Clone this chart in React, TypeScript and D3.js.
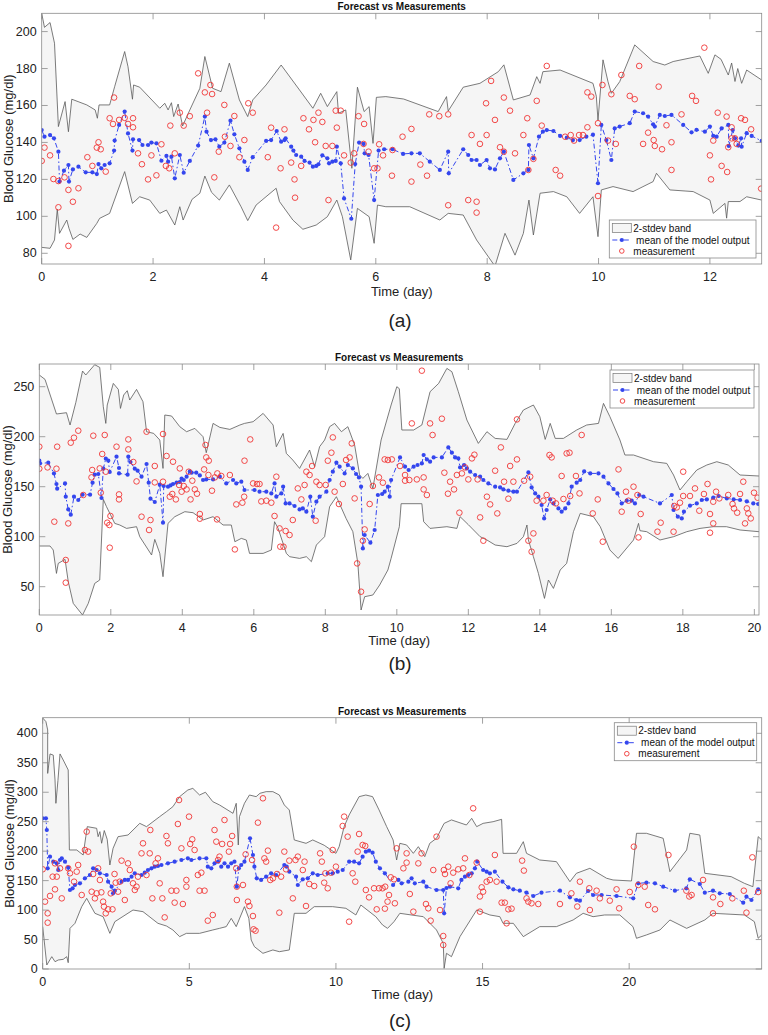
import React from 'react';
import * as d3 from 'd3';

type Pt = [number, number];

// ---------------- Panel (a) ----------------
const upperA: Pt[] = [[0,209.9],[0.05,202.3],[0.15,204.9],[0.23,193.7],[0.3,148.6],[0.42,162.1],[0.48,145.8],[0.54,163.4],[0.81,160.3],[0.96,157.6],[1.0,153.1],[1.03,160.3],[1.22,160.3],[1.31,170.2],[1.49,189.2],[1.55,181],[1.63,163.4],[1.65,171.1],[1.76,169.9],[2.12,158.5],[2.21,161.2],[2.27,157.6],[2.33,161.5],[2.37,154],[2.45,160.8],[2.53,148.9],[2.66,157.6],[2.84,169.3],[2.93,186.5],[3.07,169.3],[3.22,167.5],[3.37,182.9],[3.55,163],[3.7,154],[3.79,163],[4.03,171.1],[4.3,181.9],[4.63,168.4],[4.87,158.5],[5.01,166.6],[5.13,159.4],[5.3,167.5],[5.33,155.8],[5.46,157.6],[5.57,126],[5.67,169.9],[5.79,156.7],[5.88,159.4],[5.95,139.5],[6.01,164.4],[6.18,164.8],[6.5,163.5],[7.12,156.7],[7.27,164.8],[7.3,157],[7.57,169.9],[7.87,172],[8.2,178.3],[8.3,182],[8.47,163],[8.77,165.7],[8.89,175.6],[8.95,172],[9.0,178.3],[9.31,179.2],[9.9,172],[9.96,165],[9.99,152],[10.08,184.7],[10.17,172.9],[10.23,166.6],[10.38,172.9],[10.65,192.8],[10.98,183.8],[11.19,181.9],[11.34,183.8],[11.82,186.8],[11.97,177.4],[12.09,187.4],[12.2,185],[12.33,176.5],[12.39,183],[12.45,173],[12.5,180],[12.57,172],[12.66,179.2],[12.93,173.8]];
const lowerA: Pt[] = [[0,83.2],[0.15,82.7],[0.23,87.2],[0.28,103.8],[0.32,90.8],[0.45,98],[0.49,93.5],[0.56,87.5],[0.69,90.4],[0.81,88.6],[0.99,96.2],[1.04,98.9],[1.22,101.6],[1.49,124.2],[1.63,107],[1.76,110.6],[1.94,108.8],[2.12,101.6],[2.24,103.4],[2.39,95.3],[2.48,105.2],[2.54,98],[2.7,109.2],[2.84,112.5],[2.93,121.8],[3.05,113],[3.19,108.8],[3.37,117],[3.58,105.2],[3.7,97.7],[3.85,106.1],[4.21,115.2],[4.27,108],[4.51,98],[4.69,93],[4.93,95.3],[5.13,99.8],[5.3,108.8],[5.4,99.8],[5.55,76.4],[5.67,104.3],[5.88,99.8],[5.97,85.4],[6.03,106.1],[6.18,105.2],[6.61,105.2],[7.15,98],[7.3,101.6],[7.57,100.7],[7.81,87.2],[8.14,73],[8.32,90.8],[8.5,79],[8.65,90.8],[8.75,108.8],[8.83,89.9],[8.95,112.5],[9.19,113.4],[9.43,110.6],[9.66,101.6],[9.9,110.6],[9.99,89],[10.05,114.3],[10.26,116.1],[10.62,113.4],[10.98,118.8],[11.04,123.3],[11.28,114.3],[11.7,113.4],[12.0,108.8],[12.06,101.6],[12.27,107],[12.3,99],[12.33,108],[12.54,108],[12.66,110.6],[12.93,108.8]];
const meanA: Pt[] = [[0,146.7],[0.05,143.1],[0.15,144],[0.22,142.2],[0.3,135],[0.32,118.8],[0.4,124.7],[0.48,127.8],[0.49,118.8],[0.56,125.4],[0.66,126.9],[0.79,123.8],[0.91,123.8],[0.99,122.9],[1.02,128.3],[1.07,126],[1.13,127.8],[1.22,128.7],[1.3,135.6],[1.31,141],[1.39,149.5],[1.49,156.7],[1.55,144.9],[1.63,135.6],[1.64,141.7],[1.75,141.3],[1.81,138.6],[1.91,138.6],[1.97,139.9],[2.06,139.5],[2.15,130.1],[2.24,132.7],[2.27,129.6],[2.33,132.3],[2.39,120.6],[2.48,133.2],[2.55,123.6],[2.66,130],[2.81,138.3],[2.93,154],[2.96,145.8],[3.04,141.3],[3.12,141.7],[3.19,137.7],[3.28,139.9],[3.39,151.8],[3.46,144.4],[3.55,136.8],[3.64,129.6],[3.7,125.1],[3.79,132],[4.03,140.8],[4.12,141.3],[4.22,146.2],[4.3,140.4],[4.36,141.3],[4.38,142.2],[4.48,137.7],[4.52,135.6],[4.57,133.2],[4.66,132.3],[4.72,130],[4.81,129.1],[4.87,126.9],[4.93,127.3],[4.97,128.2],[5.04,133],[5.13,131.4],[5.16,128.7],[5.22,129.6],[5.28,130],[5.3,137.7],[5.37,128.7],[5.43,109.7],[5.56,98.7],[5.63,128.3],[5.7,139.9],[5.78,139.2],[5.8,134.1],[5.87,133.2],[5.97,108.8],[6.05,135.6],[6.15,136.3],[6.3,136.3],[6.49,133.8],[6.64,134.1],[6.79,134.1],[6.97,129.6],[7.15,125.1],[7.3,135],[7.31,123.3],[7.57,136.3],[7.66,133.2],[7.72,130.5],[7.81,130.5],[7.87,127.8],[7.99,130.5],[8.05,126],[8.14,125.4],[8.23,131.4],[8.3,135],[8.47,119.7],[8.65,123.3],[8.74,125.1],[8.75,138.6],[8.83,131.4],[8.93,143.1],[9.0,145.8],[9.07,146.7],[9.19,146.2],[9.31,143.5],[9.43,142.6],[9.54,141.3],[9.66,141.3],[9.78,143.1],[9.9,144.2],[9.99,117.9],[10.05,149.5],[10.14,141.3],[10.23,130.5],[10.29,147.6],[10.38,148.6],[10.56,150.4],[10.65,156.7],[10.8,155.8],[10.89,154],[10.98,149.8],[11.01,148.6],[11.1,154.9],[11.19,154.3],[11.31,154.9],[11.52,149.5],[11.67,145.5],[11.76,146.8],[11.91,145.8],[12.0,148.6],[12.06,143.5],[12.12,143.1],[12.21,147.6],[12.33,149.5],[12.34,138.1],[12.41,146.7],[12.45,142.2],[12.51,138.3],[12.56,142.2],[12.57,137.7],[12.66,145],[12.75,143.5],[12.93,140.8]];
const measA: Pt[] = [[0,130],[0.05,137.2],[0.15,133],[0.21,120.2],[0.3,104.9],[0.3,119.1],[0.41,121.1],[0.48,114.3],[0.48,84],[0.56,107.9],[0.66,115.2],[0.82,132],[0.91,127.3],[0.99,137.2],[1.02,140.1],[1.06,136.3],[1.15,124.2],[1.22,153.1],[1.28,150],[1.3,164.3],[1.39,152.2],[1.49,153.3],[1.55,150],[1.64,153.1],[1.64,148.2],[1.73,134.1],[1.8,128.2],[1.91,120],[1.97,133],[2.06,122.2],[2.15,139],[2.23,127.3],[2.29,126],[2.31,149.1],[2.39,134.1],[2.48,156.1],[2.55,149.1],[2.66,154.2],[2.81,177.4],[2.93,167.1],[2.97,156.1],[3.03,171.1],[3.06,166.2],[3.1,121.1],[3.18,135],[3.28,160.3],[3.29,143.1],[3.39,138.1],[3.46,154.3],[3.55,132],[3.64,141.3],[3.71,161.2],[3.79,156.1],[4.06,132],[4.12,148],[4.21,93.9],[4.29,126],[4.36,147.1],[4.48,129.1],[4.54,120],[4.55,110.1],[4.66,127.3],[4.7,153.1],[4.8,147.1],[4.88,152.2],[4.91,140.1],[4.97,156.1],[5.04,151.1],[5.1,138.1],[5.15,108.8],[5.22,138.1],[5.28,157.2],[5.3,148],[5.37,157.2],[5.43,133],[5.55,129.1],[5.61,134.1],[5.69,154.2],[5.78,139.2],[5.79,150],[5.87,135],[5.97,126],[6.03,126],[6.06,139],[6.13,133],[6.29,122],[6.3,135.9],[6.48,143.1],[6.64,147.3],[6.64,118.8],[6.8,128],[6.92,122],[6.96,155.2],[7.14,154.2],[7.3,155.2],[7.3,106],[7.66,108.8],[7.72,144],[7.81,107.9],[7.81,102],[7.87,139.2],[7.98,161.2],[7.99,144],[8.07,173.3],[8.14,152.2],[8.23,137.4],[8.3,135],[8.3,164.3],[8.41,157.2],[8.5,134.1],[8.65,144],[8.72,153.1],[8.74,125.1],[8.83,131.1],[8.89,162.5],[8.98,149.1],[9.07,181.4],[9.23,125.1],[9.31,122],[9.4,143.1],[9.5,144],[9.56,141],[9.65,144],[9.72,144],[9.8,148.2],[9.8,167.1],[9.87,164.8],[9.99,150.4],[9.99,111],[10.07,171.1],[10.17,141],[10.23,166.1],[10.31,139.2],[10.41,176.5],[10.56,165.2],[10.65,163.4],[10.73,181.4],[10.8,139.2],[10.89,145.3],[10.99,141.3],[11.01,138.1],[11.08,170.2],[11.14,136.3],[11.22,149.3],[11.31,125.1],[11.31,140.1],[11.49,155.2],[11.68,165.2],[11.75,162.5],[11.9,191.3],[12.0,133],[12.02,120],[12.06,141],[12.14,156.1],[12.21,127.3],[12.3,154],[12.31,124],[12.33,137.4],[12.39,148.2],[12.39,142.2],[12.45,142.2],[12.48,139.2],[12.56,153.1],[12.63,152.2],[12.74,147.1],[12.92,115]];
const xTicksA = [0, 2, 4, 6, 8, 10, 12];
const yTicksA = [80, 100, 120, 140, 160, 180, 200];

// ---------------- Panel (b) ----------------
const upperB: Pt[] = [[0,261.7],[0.16,257.3],[0.48,222.7],[0.76,224],[0.86,211.7],[1.02,234],[1.21,265.7],[1.3,261.7],[1.55,272],[1.69,269.3],[1.79,230],[1.86,213.3],[1.9,231.7],[2.07,253.3],[2.21,247.3],[2.27,228.3],[2.36,241.7],[2.46,246],[2.53,236.7],[2.72,247.3],[2.9,235],[3.0,205],[3.2,203.3],[3.37,196.7],[3.46,168.3],[3.51,221.7],[3.7,220.7],[3.93,210],[4.12,205],[4.35,208.3],[4.58,200],[4.67,184],[4.86,213.3],[5.05,209.3],[5.33,207.3],[5.61,211.7],[5.74,213.3],[5.98,215],[6.26,223.3],[6.54,211.7],[6.63,190],[6.82,203.3],[6.91,183.3],[7.09,176.7],[7.28,168.3],[7.56,186.7],[7.7,170],[7.84,190],[7.98,196.7],[8.12,210],[8.26,213.3],[8.45,205],[8.63,210],[8.82,191.7],[8.96,161.7],[9.05,158.3],[9.19,163.3],[9.33,148.3],[9.56,196.7],[9.84,231.7],[10.0,250],[10.07,248],[10.14,206.7],[10.47,206.7],[10.7,211.7],[10.93,245],[11.17,253.3],[11.4,268.3],[11.54,265],[11.72,245],[11.96,216.7],[12.28,193.3],[12.52,205],[12.75,198.3],[13.08,197.3],[13.31,213.3],[13.54,226.7],[13.82,231.7],[14.0,220],[14.15,197.3],[14.29,213.3],[14.43,198.3],[14.66,198.3],[15.03,206.7],[15.31,211.7],[15.64,213.3],[15.78,233.3],[15.96,220],[16.24,196.7],[16.38,181.7],[16.62,181.7],[17.18,175],[17.55,173.3],[17.74,161.7],[17.92,146.7],[18.11,155],[18.39,166.7],[18.67,171.7],[18.95,175],[19.27,171.7],[19.6,161.7],[20.13,160.7]];
const lowerB: Pt[] = [[0,90.7],[0.3,90.7],[0.39,86.7],[0.48,63.3],[0.53,73.3],[0.72,77.3],[0.81,55],[0.95,33.3],[1.21,21.7],[1.37,33.3],[1.55,53.3],[1.69,56.7],[1.79,137.3],[1.88,130],[2.11,113.3],[2.25,111.7],[2.44,108.3],[2.72,110],[2.81,100],[3.14,81.7],[3.23,97.3],[3.37,83.3],[3.46,60],[3.6,113.3],[3.79,120],[4.07,125],[4.3,124],[4.58,116.7],[4.86,120],[5.14,111.7],[5.37,111.7],[5.47,95],[5.65,98.3],[5.79,96.7],[5.88,83.3],[6.26,83.3],[6.49,86.7],[6.58,115],[6.68,108.3],[6.91,83.3],[7.0,80],[7.28,78.3],[7.47,80],[7.61,75],[7.75,91.7],[7.98,100],[8.12,130],[8.31,140],[8.58,118.3],[8.77,105],[8.91,73.3],[9.0,26.7],[9.1,40],[9.33,41.7],[9.52,51.7],[9.75,66.7],[9.84,78.3],[10.07,110],[10.12,133],[10.7,133],[10.75,115],[10.93,108.3],[11.4,110],[11.68,108.3],[11.77,120],[12.0,112],[12.33,100],[12.52,96.7],[12.75,91.7],[13.08,90],[13.36,93.3],[13.54,100],[13.64,111.7],[13.68,96.7],[13.82,80],[13.96,63.3],[14.13,38.3],[14.24,56.7],[14.38,48.3],[14.57,66.7],[14.75,73.3],[14.94,105],[15.13,123.3],[15.5,120],[15.69,110],[15.96,86.7],[16.19,78.3],[16.62,96.7],[16.76,113.3],[16.8,106],[16.99,105],[17.36,96.7],[17.74,100],[18.11,105],[18.48,108.3],[18.85,110],[19.22,110],[19.6,106.7],[20.13,105]];
const meanB: Pt[] = [[0,176],[0.02,173.3],[0.25,174],[0.41,163.3],[0.48,152.7],[0.5,148],[0.72,153.3],[0.74,140],[0.81,127.3],[0.88,122],[0.97,140],[1.09,136.7],[1.21,142],[1.42,142],[1.49,154],[1.55,162],[1.65,162.7],[1.74,138.7],[1.79,168],[1.86,178],[1.93,176],[1.97,164.7],[2.16,180],[2.23,168.7],[2.23,163.3],[2.47,162],[2.49,180],[2.55,174.7],[2.67,168],[2.75,166],[2.86,160],[3.0,172.7],[3.06,154],[3.11,138],[3.23,134.7],[3.37,152],[3.46,114],[3.48,150.7],[3.6,150],[3.67,151.3],[3.74,152.7],[3.84,154],[3.93,154.7],[3.98,158],[4.04,156.7],[4.12,160],[4.21,165.3],[4.26,164],[4.39,164],[4.49,161.3],[4.58,156.7],[4.67,157.3],[4.86,157.3],[5.05,160],[5.23,153.3],[5.42,156.7],[5.51,153.3],[5.65,155],[5.74,146.7],[6.02,146.7],[6.16,145],[6.35,145],[6.49,143.3],[6.58,153.3],[6.63,140],[6.77,143.3],[6.82,150],[6.89,133.3],[7.0,133.3],[7.14,130.7],[7.28,127.3],[7.37,128.3],[7.47,125],[7.58,140],[7.65,120],[7.75,135],[7.84,140],[8.03,145],[8.12,156.7],[8.21,165],[8.31,174],[8.4,170],[8.54,163.3],[8.63,171.7],[8.77,168.3],[8.86,162.7],[8.94,159.3],[9.0,150],[9.05,88.3],[9.1,101.7],[9.26,94],[9.38,106.7],[9.47,141.7],[9.59,142.7],[9.66,145],[9.75,150],[9.8,140],[9.84,156.7],[10.09,179.3],[10.23,170],[10.33,166.7],[10.47,170],[10.58,171.7],[10.7,173.3],[10.75,181.7],[10.84,177.3],[10.93,175],[11.03,179.3],[11.26,179.3],[11.44,189.3],[11.54,184],[11.63,179.3],[11.72,178.3],[11.77,169.3],[11.88,171.7],[11.96,168.3],[12.05,165],[12.19,161.7],[12.33,160],[12.42,156.7],[12.56,153.3],[12.75,150],[12.89,149.3],[12.98,147.3],[13.12,146],[13.26,145],[13.36,145],[13.68,164.3],[13.77,149.3],[13.87,143.3],[13.96,140],[14.05,131.7],[14.12,118.3],[14.19,126.7],[14.29,137.3],[14.38,133.3],[14.52,128.3],[14.61,125],[14.71,128.3],[14.8,133.3],[14.89,150],[15.03,154],[15.13,156.7],[15.24,165.3],[15.41,163.3],[15.64,163.3],[15.78,160],[15.92,153.3],[16.06,147.7],[16.17,143.3],[16.29,133.3],[16.43,136],[16.57,136],[16.66,133.3],[16.78,141.7],[16.9,140],[17.36,133.3],[17.69,141.7],[17.74,126.7],[17.86,120],[17.97,118.3],[18.03,125],[18.2,131],[18.39,133.3],[18.53,136.7],[18.67,137.3],[18.85,139],[19.0,140.7],[19.23,138.3],[19.42,137.3],[19.6,136.7],[19.79,135.3],[19.97,133.3],[20.11,132.7]];
const measB: Pt[] = [[0,190],[0,168],[0.23,169.3],[0.5,190],[0.48,168],[0.42,115],[0.74,76.7],[0.74,54],[0.81,113.3],[0.88,194],[0.97,199],[1.09,206],[1.23,141.7],[1.46,159.3],[1.48,166.7],[1.51,201],[1.69,168.3],[1.72,144],[1.76,182.7],[1.83,201.7],[1.86,165],[1.9,114],[1.96,111.7],[1.99,120.7],[1.97,89],[2.16,190],[2.23,142.3],[2.23,137.3],[2.49,197.3],[2.49,187.3],[2.63,174.7],[2.72,155.3],[2.86,120],[3.0,205],[3.07,106.7],[3.11,116.7],[3.23,170.7],[3.23,154.3],[3.46,202.7],[3.46,155],[3.56,180.7],[3.65,140],[3.72,142.7],[3.74,175],[3.82,137.3],[3.91,151.7],[3.93,168.3],[3.98,145],[4.04,150.7],[4.12,147.3],[4.18,165],[4.23,137.3],[4.28,156],[4.35,147.3],[4.41,143],[4.49,122.7],[4.49,118],[4.61,167.3],[4.65,191.7],[4.67,179.3],[4.74,176],[4.73,161.7],[4.83,146],[4.91,159.3],[4.98,163.3],[4.97,117.3],[5.09,160.7],[5.33,161.7],[5.51,132.3],[5.47,87.3],[5.68,134],[5.73,140],[5.74,176],[5.9,197.3],[5.98,153.3],[6.09,152.7],[6.16,152.7],[6.21,135.3],[6.35,136],[6.49,134],[6.58,120.7],[6.63,160],[6.72,108.3],[6.74,90],[6.83,90],[6.89,105.7],[7.0,101.7],[7.09,116.7],[7.23,148.3],[7.33,137.3],[7.42,151.7],[7.47,165],[7.56,161.7],[7.63,170.7],[7.73,116],[7.75,155],[7.84,151.7],[8.01,151.7],[8.07,176],[8.17,184],[8.21,199.3],[8.26,145],[8.38,132.7],[8.49,152.7],[8.58,176.7],[8.68,179.3],[8.74,193.3],[8.82,138.3],[8.89,73.3],[9.0,45],[9.05,96],[9.1,107.3],[9.24,132.7],[9.33,150.7],[9.5,159.3],[9.61,154],[9.66,177.3],[9.75,176.7],[9.86,177.3],[10.09,170.7],[10.23,161.7],[10.23,156],[10.35,156.7],[10.42,213.3],[10.56,157.3],[10.7,266],[10.75,159.3],[10.75,147.3],[10.84,141.7],[10.93,213.3],[11.0,201.7],[11.26,218],[11.33,164],[11.43,143],[11.49,155],[11.6,147.3],[11.68,161.7],[11.75,124],[11.82,163.3],[11.91,169.3],[12.0,157.3],[12.1,178.3],[12.17,182],[12.26,157.3],[12.33,119.3],[12.42,96],[12.52,140],[12.61,132.3],[12.75,166],[12.81,123.3],[12.91,189.3],[13.0,155],[13.12,138],[13.17,170.7],[13.26,155],[13.36,217.3],[13.36,177.3],[13.56,156],[13.68,96],[13.73,160],[13.77,85],[13.82,103.3],[13.91,136],[14.1,136],[14.19,141.7],[14.27,181.7],[14.33,179.3],[14.36,136],[14.45,133.3],[14.61,160.7],[14.66,137.7],[14.75,183.3],[14.83,184],[14.85,140.7],[15.01,160.7],[15.11,143.3],[15.17,201.7],[15.48,123.3],[15.62,137.3],[15.76,95],[16.2,167.3],[16.29,125],[16.41,145],[16.48,136],[16.62,150],[16.73,141.7],[16.82,122.7],[16.76,99.3],[17.29,105],[17.38,114],[17.74,105],[17.76,130.7],[17.83,129.3],[17.92,134],[18.01,165],[18.01,140.7],[18.2,140.7],[18.34,148.3],[18.46,126],[18.59,142.7],[18.69,152.7],[18.76,122.7],[18.76,104],[18.85,113.3],[18.85,135],[18.93,145],[19.02,138.3],[19.27,141.7],[19.39,132.7],[19.43,128.3],[19.52,124],[19.6,142.7],[19.69,155],[19.74,113.3],[19.79,128.3],[19.83,123.3],[19.9,118.3],[19.99,144],[20.09,139]];
const xTicksB = [0, 2, 4, 6, 8, 10, 12, 14, 16, 18, 20];
const yTicksB = [50, 100, 150, 200, 250];

// ---------------- Panel (c) ----------------
const upperC: Pt[] = [[0,426],[0.11,419.8],[0.17,405.7],[0.17,332],[0.25,365],[0.36,363],[0.42,320.8],[0.45,281.2],[0.52,320],[0.59,365],[0.7,354.7],[0.87,337.8],[0.91,202],[1.16,202],[1.38,193.5],[1.47,224.6],[1.52,241.6],[1.84,238.8],[1.89,224.6],[1.95,233.1],[2.01,213.4],[2.1,235],[2.2,220],[2.29,176.5],[2.4,204.8],[2.57,224.6],[2.91,227.4],[3.31,247.2],[3.54,241.6],[3.99,258.6],[4.22,267],[4.44,275.5],[4.67,292.5],[4.95,303.8],[5.12,306.6],[5.35,295.3],[5.55,300],[5.8,284],[6.03,278.4],[6.49,264.2],[6.6,281.2],[6.67,210.5],[6.71,258.6],[6.88,281.2],[7.05,295.3],[7.28,292.5],[7.41,298.2],[7.62,301],[7.85,301],[8.07,295.3],[8.24,278.4],[8.41,269.9],[8.58,219],[8.98,213.3],[9.21,219],[9.6,210],[10.0,196.3],[10.11,207.6],[10.28,241.6],[10.45,261.4],[10.79,292.5],[11.02,295.3],[11.25,292.5],[11.47,270],[11.73,241.6],[11.95,219],[12.07,185],[12.18,213.3],[12.41,210.5],[12.64,196.3],[12.81,207.6],[13.03,190.6],[13.2,213.3],[13.43,221.8],[13.66,244.4],[13.69,247.2],[13.94,253],[14.45,244.4],[14.63,255.7],[14.8,241.6],[15.02,247.2],[15.36,250],[15.65,254],[15.7,196.3],[16.16,196.3],[16.39,216.1],[16.5,196.3],[16.95,185],[17.52,182.2],[17.98,148.2],[18.2,162.4],[18.66,170.9],[19.23,154],[19.45,151.1],[20.08,149.4],[20.25,230.3],[20.59,230.3],[21.16,221.8],[21.39,165.2],[21.96,202],[22.07,230.3],[22.41,227.4],[22.58,162.4],[23.48,156.7],[23.93,145.4],[24.22,139.7],[24.4,224.6],[24.52,219]];
const lowerC: Pt[] = [[0,71.9],[0.14,6.8],[0.31,20.9],[0.42,12.4],[0.53,15.3],[0.7,16.4],[0.82,20.9],[0.87,10.7],[0.93,69],[1.1,77.5],[1.33,105.8],[1.5,119.9],[1.78,94.5],[2.06,88.8],[2.29,60.5],[2.46,80.3],[3.08,100.1],[3.42,97.3],[3.93,77.5],[4.22,73],[4.44,66.2],[4.67,54.9],[4.9,60.5],[5.35,60.5],[5.8,66.2],[6.03,69],[6.26,71.9],[6.43,85.9],[6.6,71.9],[6.88,105.8],[7.03,85.9],[7.11,49.2],[7.22,37.9],[7.51,26.6],[7.85,32.3],[8.07,29.4],[8.41,32.3],[8.58,94.5],[8.98,94.5],[9.26,105.8],[9.89,105.8],[10.34,103],[10.68,91.7],[10.85,108.6],[11.36,88.8],[11.59,74.7],[11.76,69],[11.98,80.3],[12.18,94.5],[12.98,88.8],[13.43,66.2],[13.66,43.5],[13.69,1.1],[13.77,26.6],[13.94,20.9],[14.23,54.9],[14.8,100.1],[15.25,91.7],[15.59,88.8],[15.7,77.5],[16.05,77.5],[16.39,54.9],[16.95,71.9],[17.52,71.9],[18.09,83.2],[18.43,94.5],[18.77,88.8],[19.16,91.7],[19.68,91.7],[20.13,71.9],[20.25,52.1],[20.59,57.8],[21.05,66.2],[21.39,83.2],[21.96,69],[22.58,83.2],[22.86,94.5],[23.93,91.7],[24.27,80.3],[24.4,52.1],[24.52,57.8]];
const meanC: Pt[] = [[0,255.7],[0.11,255.7],[0.14,235.9],[0.17,170.9],[0.25,190.7],[0.36,182.2],[0.48,179.3],[0.53,168],[0.59,185],[0.65,187.8],[0.76,182.2],[0.87,172],[0.93,134.1],[1.02,136.9],[1.1,142.6],[1.27,145.4],[1.44,153.9],[1.61,159.5],[1.72,170.9],[1.84,168],[1.95,162.4],[2.18,159.5],[2.23,148.2],[2.35,139.7],[2.4,128.4],[2.46,132.9],[2.69,148.2],[2.8,151.1],[2.91,151.1],[3.03,156.7],[3.14,162.4],[3.37,159.5],[3.48,163.5],[3.59,168],[3.71,170.9],[3.82,173.7],[3.93,174.8],[4.05,176.5],[4.27,179.3],[4.5,182.2],[4.73,185],[4.95,187.8],[5.07,185],[5.35,187.8],[5.58,187.8],[5.63,173.7],[5.75,170.9],[5.86,179.3],[5.98,182.2],[6.09,173.7],[6.2,179.3],[6.32,173.7],[6.43,179.3],[6.54,182.2],[6.62,139.7],[6.69,170.9],[6.77,176.5],[6.88,182.2],[7.07,221.8],[7.17,193.5],[7.22,173.7],[7.3,153.9],[7.45,151.1],[7.62,156.7],[7.79,162.4],[7.96,159.5],[8.24,176.5],[8.32,173.7],[8.41,165.2],[8.64,156.7],[8.7,142.6],[8.87,152.2],[9.04,153.9],[9.21,162.4],[9.38,159.5],[9.72,162.4],[9.89,162.4],[10.06,165.2],[10.23,168],[10.45,182.2],[10.62,182.2],[10.79,179.3],[10.91,190.7],[11.02,199.2],[11.13,200.9],[11.25,197.5],[11.36,182.2],[11.5,170.9],[11.67,162.4],[11.95,142.6],[12.13,151.1],[12.24,145.4],[12.47,148.2],[12.58,153.9],[12.69,145.4],[12.98,148.2],[13.09,139.7],[13.43,134.1],[13.66,134.1],[13.69,94.5],[13.77,137.5],[13.89,139.7],[14.17,137],[14.28,151.1],[14.4,156.7],[14.51,159.5],[14.63,162.4],[14.74,170.9],[14.82,182.2],[15.02,168],[15.14,165.2],[15.25,162.4],[15.42,165.2],[15.68,148.2],[15.88,138.6],[16.05,135.2],[16.27,132.9],[16.5,129.6],[16.73,123.9],[17.01,129.6],[17.64,132.9],[17.98,121.6],[18.2,117.1],[18.32,116],[18.6,132.4],[18.77,125.6],[19.06,125.6],[19.57,123.9],[20.14,120],[20.31,145.4],[20.59,146.5],[20.88,145.4],[21.16,139.7],[21.56,132.9],[21.95,137],[22.07,152.2],[22.41,144.3],[22.58,129.6],[22.86,132.9],[23.09,128.4],[23.43,127.3],[23.89,112.6],[24.0,122.8],[24.17,117.1],[24.4,135.2]];
const measC: Pt[] = [[0,169.2],[0.08,114.3],[0.17,94.5],[0.17,78.6],[0.25,124],[0.34,156.7],[0.42,135.2],[0.42,179.3],[0.48,156.7],[0.59,170.9],[0.65,119.9],[0.87,170.9],[0.93,162.4],[1.07,148.2],[1.16,165.2],[1.21,176.5],[1.33,125.6],[1.44,202],[1.5,233.1],[1.55,199.2],[1.67,131.2],[1.72,161.2],[1.78,119.9],[1.84,128.4],[1.89,170.9],[1.95,151.1],[2.0,130.1],[2.06,114.3],[2.09,105.8],[2.15,94.5],[2.23,101.3],[2.32,128.4],[2.38,101.3],[2.45,161.2],[2.49,146.5],[2.57,131.2],[2.63,148.2],[2.69,183.9],[2.8,117.1],[2.91,179.3],[2.97,168],[3.08,145.4],[3.14,134.1],[3.2,139.7],[3.25,156.7],[3.37,196.3],[3.42,213.3],[3.54,159.5],[3.65,196.3],[3.67,235.9],[3.74,119.9],[3.85,179.3],[3.93,187.8],[3.99,145.4],[4.08,119.9],[4.16,87.6],[4.22,225.7],[4.27,213.3],[4.39,132.9],[4.5,112.6],[4.56,132.9],[4.61,246.1],[4.65,286.8],[4.73,204.8],[4.78,110.3],[4.9,151.1],[4.9,139.7],[4.99,258.6],[5.03,212.2],[5.1,220.1],[5.18,202],[5.29,159.5],[5.35,132.9],[5.41,163.5],[5.52,132.9],[5.63,82],[5.8,91.7],[5.86,235.9],[5.92,216.1],[5.98,185],[6.03,190.7],[6.12,212.2],[6.2,252.9],[6.35,199.2],[6.39,212.2],[6.46,225.7],[6.6,170.9],[6.62,117.1],[6.62,139.7],[6.83,142.6],[6.92,194.6],[7.0,114.3],[7.05,106.9],[7.14,185],[7.17,89.9],[7.19,67.3],[7.26,65],[7.34,248.4],[7.51,289.7],[7.56,187.8],[7.62,182.2],[7.68,200.9],[7.76,151.1],[7.85,153.9],[7.99,161.2],[8.07,95.6],[8.13,156.7],[8.24,199.2],[8.3,169.2],[8.41,183.9],[8.53,119.9],[8.62,185],[8.7,190.7],[8.87,168],[8.93,182.2],[8.98,106.9],[9.09,144.3],[9.26,140.8],[9.46,196.3],[9.52,182.2],[9.6,146.5],[9.64,162.4],[9.72,137],[9.83,163.5],[9.89,202],[10.0,173.7],[10.23,242.7],[10.28,258.6],[10.4,224.6],[10.45,80.3],[10.57,162.4],[10.66,148.2],[10.74,199.2],[10.79,229.1],[10.91,210.5],[11.0,208.8],[11.02,134.1],[11.13,121.6],[11.3,137],[11.39,101.3],[11.47,137],[11.59,137],[11.67,102.4],[11.68,139.7],[11.76,114.3],[11.81,125.6],[11.87,155.6],[11.98,152.2],[12.01,111.5],[12.07,204.8],[12.3,170.9],[12.41,180.5],[12.41,196.3],[12.52,127.3],[12.64,97.3],[12.81,179.3],[12.92,196.3],[13.07,110.3],[13.15,103],[13.23,82],[13.32,168],[13.43,224.6],[13.55,100.1],[13.66,56],[13.66,40.7],[13.68,168],[13.72,161.2],[13.83,173.7],[13.91,145.4],[14.0,163.5],[14.17,169.2],[14.34,170.9],[14.4,187.8],[14.55,159.5],[14.68,272.7],[14.8,180.5],[14.91,123.1],[14.91,97.3],[14.97,138.6],[15.02,131.2],[15.14,148.2],[15.25,151.1],[15.42,193.5],[15.48,148.2],[15.65,112.6],[15.76,112.6],[15.82,77.5],[15.88,101.3],[15.99,102.4],[16.35,183.9],[16.41,167],[16.5,119.9],[16.56,114.3],[16.67,111.5],[16.9,110.3],[17.64,110.3],[18.03,128.4],[18.23,106],[18.32,148.2],[18.64,137],[18.66,100.1],[18.89,132.9],[19.0,119.9],[19.34,116],[19.57,135.2],[19.66,103],[20.02,130.7],[20.16,207.6],[20.31,142.6],[20.53,139.7],[20.65,108.6],[20.88,101.3],[21.34,193.5],[21.95,132.9],[22.05,123.1],[22.13,125.6],[22.52,151.1],[22.86,121.6],[22.86,94.5],[23.11,110.3],[23.52,119.9],[23.91,132.9],[24.0,95.6],[24.2,189.5],[24.4,130.7]];
const xTicksC = [0, 5, 10, 15, 20];
const yTicksC = [0, 50, 100, 150, 200, 250, 300, 350, 400];

const legendLabels = ['2-stdev band', ' mean of the model output', 'measurement'];
const FONT = "'Liberation Sans', Arial, Helvetica, sans-serif";
const BLUE = '#3446ee';
const RED = '#f03535';
const AXIS = '#8a8a8a';

interface PanelProps {
  id: string;
  upper: Pt[]; lower: Pt[]; mean: Pt[]; meas: Pt[];
  x0: number; x1: number; y0: number; y1: number;
  xDom: [number, number]; yDom: [number, number];
  xTicks: number[]; yTicks: number[];
  xLabelY: number; yLabelX: number; tag: string; tagY: number;
  lx: number; ly: number; lw: number;
}

function Panel(p: PanelProps) {
  const x = d3.scaleLinear().domain(p.xDom).range([p.x0, p.x1]);
  const y = d3.scaleLinear().domain(p.yDom).range([p.y1, p.y0]);
  const line = d3.line<Pt>().x(d => x(d[0])).y(d => y(d[1]));
  const bandPath = (line(p.upper.concat(p.lower.slice().reverse())) || '') + 'Z';
  const cx = (p.x0 + p.x1) / 2;
  const cy = (p.y0 + p.y1) / 2;
  const tl = 6;
  return (
    <g>
      <defs>
        <clipPath id={'clip' + p.id}>
          <rect x={p.x0} y={p.y0} width={p.x1 - p.x0} height={p.y1 - p.y0} />
        </clipPath>
      </defs>
      <text x={cx} y={p.y0 - 6.5} textAnchor="middle" dominantBaseline="central" fontFamily={FONT} fontWeight="bold" fontSize={10} fill="#111">Forecast vs Measurements</text>
      <g clipPath={`url(#clip${p.id})`}>
        <path d={bandPath} fill="#f5f5f5" stroke="none" />
        <path d={line(p.upper) || ''} fill="none" stroke="#5a5a5a" strokeWidth={0.8} />
        <path d={line(p.lower) || ''} fill="none" stroke="#5a5a5a" strokeWidth={0.8} />
        <path d={line(p.mean) || ''} fill="none" stroke={BLUE} strokeWidth={1} strokeDasharray="5,2.5,1.5,2.5" />
        {p.mean.map((d, i) => <circle key={'m' + i} cx={x(d[0])} cy={y(d[1])} r={2.1} fill={BLUE} />)}
        {p.meas.map((d, i) => <circle key={'o' + i} cx={x(d[0])} cy={y(d[1])} r={2.8} fill="none" stroke={RED} strokeWidth={0.9} />)}
      </g>
      <rect x={p.x0} y={p.y0} width={p.x1 - p.x0} height={p.y1 - p.y0} fill="none" stroke={AXIS} strokeWidth={0.8} />
      {p.xTicks.map(t => (
        <g key={'xt' + t}>
          <line x1={x(t)} x2={x(t)} y1={p.y1} y2={p.y1 - tl} stroke={AXIS} strokeWidth={0.8} />
          <line x1={x(t)} x2={x(t)} y1={p.y0} y2={p.y0 + tl} stroke={AXIS} strokeWidth={0.8} />
          <text x={x(t)} y={p.y1 + 12.5} textAnchor="middle" dominantBaseline="central" fontFamily={FONT} fontSize={12.5} fill="#222">{t}</text>
        </g>
      ))}
      {p.yTicks.map(t => (
        <g key={'yt' + t}>
          <line x1={p.x0} x2={p.x0 + tl} y1={y(t)} y2={y(t)} stroke={AXIS} strokeWidth={0.8} />
          <line x1={p.x1} x2={p.x1 - tl} y1={y(t)} y2={y(t)} stroke={AXIS} strokeWidth={0.8} />
          <text x={p.x0 - 5} y={y(t)} textAnchor="end" dominantBaseline="central" fontFamily={FONT} fontSize={12.5} fill="#222">{t}</text>
        </g>
      ))}
      <text x={cx} y={p.xLabelY} textAnchor="middle" dominantBaseline="central" fontFamily={FONT} fontSize={13} fill="#222">Time (day)</text>
      <text transform={`translate(${p.yLabelX},${cy}) rotate(-90)`} textAnchor="middle" dominantBaseline="central" fontFamily={FONT} fontSize={13} fill="#222">Blood Glucose (mg/dl)</text>
      <text x={400} y={p.tagY} textAnchor="middle" dominantBaseline="central" fontFamily={FONT} fontSize={19} fill="#222">{p.tag}</text>
      <g transform={`translate(${p.lx},${p.ly})`}>
        <rect x={0} y={0} width={p.lw} height={38} fill="#fff" stroke={AXIS} strokeWidth={0.8} />
        <rect x={3} y={3.5} width={19} height={9} fill="#f5f5f5" stroke="#777" strokeWidth={0.7} />
        <text x={24} y={8} dominantBaseline="central" fontFamily={FONT} fontSize={10} fill="#111">{legendLabels[0]}</text>
        <line x1={3} x2={22} y1={20} y2={20} stroke={BLUE} strokeWidth={1} strokeDasharray="5,2.5,1.5,2.5" />
        <circle cx={12.5} cy={20} r={2.1} fill={BLUE} />
        <text x={24} y={20} dominantBaseline="central" fontFamily={FONT} fontSize={10} fill="#111" style={{ whiteSpace: 'pre' }}>{legendLabels[1]}</text>
        <circle cx={12.5} cy={31} r={2.3} fill="none" stroke={RED} strokeWidth={0.9} />
        <text x={24} y={31} dominantBaseline="central" fontFamily={FONT} fontSize={10} fill="#111">{legendLabels[2]}</text>
      </g>
    </g>
  );
}

export default function App() {
  return (
    <svg width={768} height={1035} style={{ position: 'absolute', left: 0, top: 0, background: '#fff' }}>
      <rect x={0} y={0} width={768} height={1035} fill="#fff" />
      <Panel id="a" upper={upperA} lower={lowerA} mean={meanA} meas={measA}
        x0={41.7} x1={761.7} y0={13.3} y1={264} xDom={[0, 12.93]} yDom={[74.2, 209.9]}
        xTicks={xTicksA} yTicks={yTicksA} xLabelY={291.7} yLabelX={8.5} tag="(a)" tagY={320}
        lx={609.3} ly={220} lw={146.7} />
      <Panel id="b" upper={upperB} lower={lowerB} mean={meanB} meas={measB}
        x0={39.3} x1={759} y0={364} y1={615} xDom={[0, 20.13]} yDom={[21.7, 272.7]}
        xTicks={xTicksB} yTicks={yTicksB} xLabelY={640} yLabelX={7} tag="(b)" tagY={663}
        lx={610} ly={370} lw={144} />
      <Panel id="c" upper={upperC} lower={lowerC} mean={meanC} meas={measC}
        x0={42.7} x1={761.7} y0={717.7} y1={969} xDom={[0, 24.52]} yDom={[0, 426.5]}
        xTicks={xTicksC} yTicks={yTicksC} xLabelY={994} yLabelX={9.5} tag="(c)" tagY={1020}
        lx={614.3} ly={722.7} lw={142.4} />
    </svg>
  );
}
